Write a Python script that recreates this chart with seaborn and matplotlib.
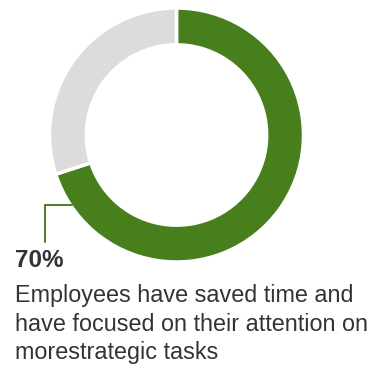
import numpy as np
import matplotlib
matplotlib.use("Agg")
import matplotlib.pyplot as plt
import seaborn as sns

labels = ["Saved time", "Other"]
values = [70, 30]
colors = ["#477f1d", "#dcdcdc"]
headline = "70%"
desc_lines = ["Employees have saved time and",
              "have focused on their attention on",
              "morestrategic tasks"]

sns.set_theme(style="white")
plt.rcParams['font.family'] = ['Liberation Sans', 'DejaVu Sans']

W, H = 390, 369
fig = plt.figure(figsize=(W / 100, H / 100), dpi=100)
cx, cy, R = 176.5, 135, 127
ax = fig.add_axes([(cx - R) / W, (H - cy - R) / H, 2 * R / W, 2 * R / H])
ax.pie(values, colors=colors, startangle=90, counterclock=False, radius=1,
       wedgeprops=dict(width=0.29, edgecolor="white", linewidth=2.5))
ax.set_xlim(-1, 1)
ax.set_ylim(-1, 1)
ax.set_aspect("equal")
ax.axis("off")

# leader line from outer edge of the green wedge
ang = np.deg2rad(-146)
x0, y0 = 0.99 * np.cos(ang), 0.99 * np.sin(ang)
xl = -(cx - 45) / R
yb = -(242 - cy) / R
ax.plot([x0, xl, xl], [y0, y0, yb], color=colors[0], lw=1.4, clip_on=False,
        solid_joinstyle="miter")

def fy(py):
    return (H - py) / H

fig.text(15 / W, fy(267), headline, fontsize=17.5, fontweight="bold",
         color="#333333", va="baseline", ha="left")
for ln, base in zip(desc_lines, [302, 331, 359]):
    fig.text(15 / W, fy(base), ln, fontsize=16.8, color="#333333",
             va="baseline", ha="left")

fig.savefig("out.png", dpi=100)
